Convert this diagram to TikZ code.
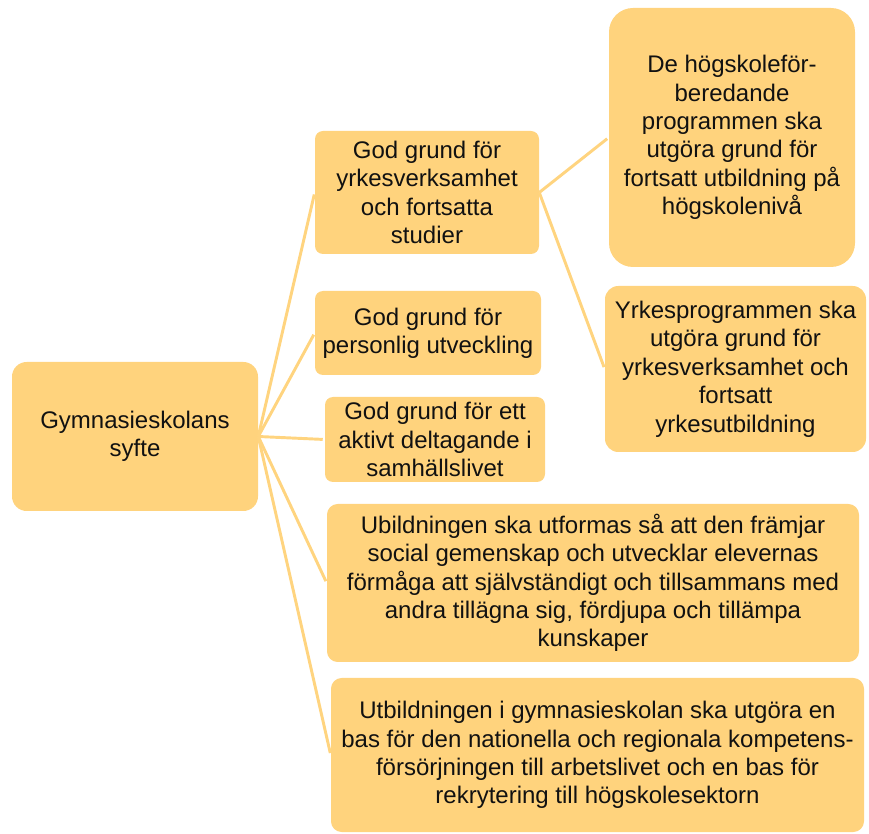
\documentclass[tikz,border=0pt]{standalone}
\usepackage{fontspec}
\setmainfont{Liberation Sans}
\definecolor{boxfill}{HTML}{FFD37D}
\definecolor{linec}{HTML}{FFD47F}
\definecolor{txt}{HTML}{111111}
\begin{document}
\begin{tikzpicture}[x=0.75pt,y=-0.75pt,
  box/.style={draw=none,fill=boxfill,rounded corners=#1,align=center,text=txt,
    font=\fontsize{18pt}{21.3pt}\selectfont,inner sep=0pt},
  box/.default=6pt,
  conn/.style={draw=linec,line width=2.2pt,shorten >=1.5pt}]
\useasboundingbox (0,0) rectangle (869,834);
\node[box=11pt,minimum width=246*0.75pt,minimum height=149*0.75pt] (root) at (135,436.5) {Gymnasieskolans\\syfte};
\node[box,minimum width=224*0.75pt,minimum height=123*0.75pt] (a) at (427,192.5) {God grund för\\yrkesverksamhet\\och fortsatta\\studier};
\node[box,minimum width=226*0.75pt,minimum height=84*0.75pt] (b) at (428,333) {God grund för\\personlig utveckling};
\node[box,minimum width=220*0.75pt,minimum height=85*0.75pt] (c) at (435,439.5) {God grund för ett\\aktivt deltagande i\\samhällslivet};
\node[box=8pt,minimum width=532*0.75pt,minimum height=158*0.75pt] (d) at (593,583) {Ubildningen ska utformas så att den främjar\\social gemenskap och utvecklar elevernas\\förmåga att självständigt och tillsammans med\\andra tillägna sig, fördjupa och tillämpa\\kunskaper};
\node[box=8pt,minimum width=533*0.75pt,minimum height=154*0.75pt] (e) at (597.5,755) {Utbildningen i gymnasieskolan ska utgöra en\\bas för den nationella och regionala kompetens-\\försörjningen till arbetslivet och en bas för\\rekrytering till högskolesektorn};
\node[box=18pt,minimum width=246*0.75pt,minimum height=259*0.75pt] (f) at (732,137.5) {De högskoleför-\\beredande\\programmen ska\\utgöra grund för\\fortsatt utbildning på\\högskolenivå};
\node[box=10pt,minimum width=261*0.75pt,minimum height=166*0.75pt] (g) at (735.5,369) {Yrkesprogrammen ska\\utgöra grund för\\yrkesverksamhet och\\fortsatt\\yrkesutbildning};
\foreach \t in {a,b,c,d,e} \draw[conn] (root.east) -- (\t.west);
\foreach \t in {f,g} \draw[conn] (a.east) -- (\t.west);
\end{tikzpicture}
\end{document}
